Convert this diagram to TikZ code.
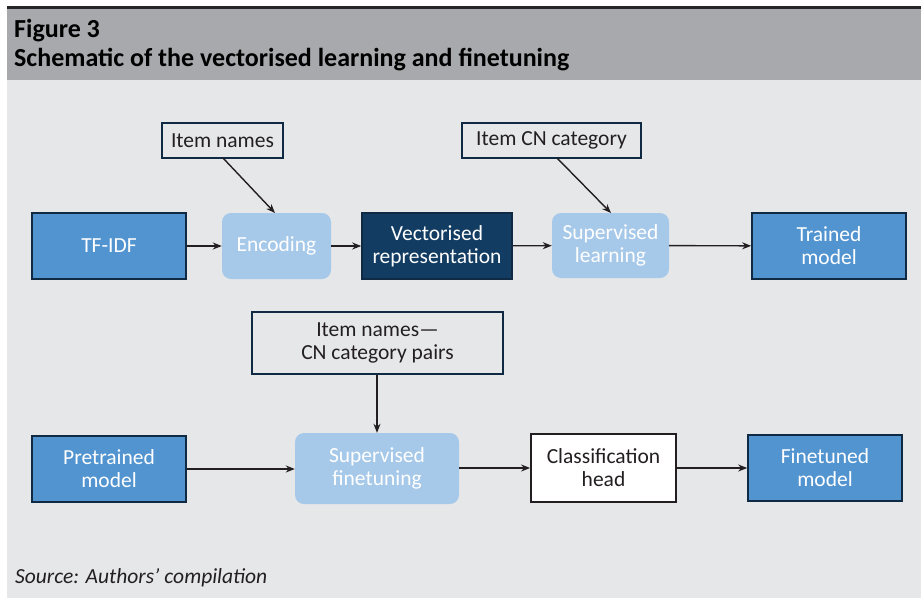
\documentclass[tikz,border=0pt]{standalone}
\usepackage{fontspec}
\setmainfont{Carlito}
\usetikzlibrary{arrows.meta}
\definecolor{hdr}{HTML}{A8A9AD}
\definecolor{bodybg}{HTML}{E6E7E9}
\definecolor{midblue}{HTML}{5294D0}
\definecolor{lightblue}{HTML}{A7C9E9}
\definecolor{navy}{HTML}{123C62}
\definecolor{edge}{HTML}{0F2A42}
\definecolor{ink}{HTML}{231F20}
\tikzset{
  box/.style={minimum width=#1, inner sep=0pt, align=center, font=\fontsize{21.5}{23}\selectfont},
  bluebox/.style={draw=edge, line width=1.6pt, fill=midblue, text=white},
  softbox/.style={fill=lightblue, text=white, rounded corners=9pt},
  darkbox/.style={draw=edge, line width=1.6pt, fill=navy, text=white},
  inbox/.style={draw=edge, line width=1.4pt, fill=bodybg, text=ink},
  whitebox/.style={draw=ink, line width=1.8pt, fill=white, text=ink},
  arr/.style={draw=ink, line width=1.4pt, -{Stealth[length=9pt,width=7pt]}}
}
\begin{document}
\begin{tikzpicture}[x=1pt,y=-1pt]
\useasboundingbox (0,0) rectangle (921,600);
\fill[white] (0,0) rectangle (921,600);
\fill[bodybg] (7,80) rectangle (921,598);
\fill[hdr] (7,9) rectangle (921,80);
\fill[black!85] (7,6) rectangle (921,9);
\node[anchor=base west, inner sep=0pt, font=\fontsize{26}{28}\selectfont\bfseries, text=black] (t1) at (14,37) {Figure 3};
\node[anchor=base west, inner sep=0pt, font=\fontsize{26}{28}\selectfont\bfseries, text=black] (t2) at (14,66) {Schematic of the vectorised learning and finetuning};
\node[anchor=base west, inner sep=0pt, font=\fontsize{21.5}{23}\selectfont\itshape, text=ink] (src) at (15,583) {Source: Authors’ compilation};

% top row
\node[box=154pt, minimum height=66pt, bluebox] (tfidf) at (109,246) {TF-IDF};
\node[box=109pt, minimum height=66pt, softbox] (enc) at (276.5,246) {Encoding};
\node[box=150pt, minimum height=66pt, darkbox] (vec) at (437,246) {Vectorised\\representation};
\node[box=117pt, minimum height=65pt, softbox] (sup) at (610.5,245.5) {Supervised\\learning};
\node[box=154pt, minimum height=66pt, bluebox] (trained) at (829,246) {Trained\\model};
\node[box=121pt, minimum height=35pt, inbox] (names) at (222.5,140.5) {Item names};
\node[box=179pt, minimum height=35pt, inbox] (cat) at (551.5,140.5) {Item CN category};

% bottom row
\node[box=154pt, minimum height=66pt, bluebox] (pre) at (109,469) {Pretrained\\model};
\node[box=164pt, minimum height=71pt, softbox] (fine) at (377,468.5) {Supervised\\finetuning};
\node[box=145pt, minimum height=68pt, whitebox] (cls) at (603.5,468) {Classification\\head};
\node[box=154pt, minimum height=66pt, bluebox] (fin) at (825,468) {Finetuned\\model};
\node[box=251pt, minimum height=62pt, inbox] (pairs) at (377.5,343) {Item names—\\CN category pairs};

\coordinate (n1) at (223,158);
\coordinate (n2) at (275,213);
\coordinate (c1) at (557,158);
\coordinate (c2) at (611,213);

\draw[arr] (tfidf) -- (enc);
\draw[arr] (enc) -- (vec);
\draw[arr] (vec) -- (sup);
\draw[arr] (sup) -- (trained);
\draw[arr] (n1) -- (n2);
\draw[arr] (c1) -- (c2);
\draw[arr] (pre.east) -- (fine.west |- pre.east);
\draw[arr] (fine.east |- cls.west) -- (cls.west);
\draw[arr] (cls) -- (fin);
\draw[arr] (pairs.south -| fine.north) -- (fine.north);
\end{tikzpicture}
\end{document}
